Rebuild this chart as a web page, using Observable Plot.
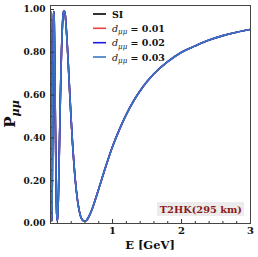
<!DOCTYPE html>
<html><head><meta charset="utf-8">
<script src="https://cdn.jsdelivr.net/npm/d3@7"></script>
<script src="https://cdn.jsdelivr.net/npm/@observablehq/plot@0.6"></script>
<style>body{margin:0;background:#fff}</style>
</head><body><div id="chart"></div>
<script>
const energies = [0.100,0.105,0.110,0.115,0.120,0.125,0.130,0.135,0.140,0.145,0.150,0.155,0.160,0.170,0.180,0.190,0.200,0.210,0.220,0.230,0.240,0.250,0.260,0.270,0.280,0.290,0.300,0.310,0.320,0.340,0.360,0.380,0.400,0.420,0.440,0.460,0.480,0.500,0.520,0.540,0.560,0.580,0.600,0.620,0.650,0.700,0.750,0.800,0.900,1.000,1.100,1.200,1.300,1.400,1.500,1.600,1.800,2.000,2.200,2.400,2.600,2.800,3.000];
const probSI = [0.99,0.746,0.358,0.075,0.012,0.143,0.387,0.649,0.858,0.975,0.99,0.936,0.815,0.498,0.215,0.046,0.012,0.074,0.207,0.371,0.537,0.688,0.811,0.902,0.963,0.99,0.993,0.984,0.951,0.854,0.731,0.603,0.482,0.372,0.279,0.201,0.139,0.090,0.054,0.030,0.017,0.012,0.011,0.014,0.028,0.064,0.112,0.162,0.265,0.360,0.440,0.510,0.570,0.620,0.663,0.700,0.756,0.800,0.830,0.857,0.878,0.894,0.907];
const probD001 = [0.99,0.740,0.350,0.070,0.012,0.150,0.395,0.655,0.862,0.976,0.99,0.934,0.812,0.496,0.214,0.046,0.012,0.074,0.207,0.371,0.537,0.688,0.811,0.902,0.963,0.99,0.993,0.984,0.951,0.854,0.731,0.603,0.482,0.372,0.279,0.201,0.139,0.090,0.054,0.030,0.017,0.012,0.011,0.014,0.028,0.064,0.112,0.162,0.265,0.360,0.440,0.510,0.570,0.620,0.663,0.700,0.756,0.800,0.830,0.857,0.878,0.894,0.907];
const probD002 = [0.99,0.730,0.340,0.066,0.012,0.158,0.405,0.662,0.866,0.977,0.99,0.931,0.808,0.493,0.212,0.045,0.012,0.075,0.208,0.372,0.538,0.688,0.811,0.902,0.963,0.99,0.993,0.984,0.951,0.854,0.731,0.603,0.482,0.372,0.279,0.201,0.139,0.090,0.054,0.030,0.017,0.012,0.011,0.014,0.028,0.064,0.112,0.162,0.265,0.360,0.440,0.510,0.570,0.620,0.663,0.700,0.756,0.800,0.830,0.857,0.878,0.894,0.907];
const probD003 = [0.99,0.720,0.330,0.062,0.012,0.166,0.415,0.670,0.870,0.978,0.99,0.928,0.804,0.490,0.210,0.045,0.012,0.076,0.209,0.373,0.539,0.689,0.811,0.902,0.963,0.99,0.993,0.984,0.951,0.854,0.731,0.603,0.482,0.372,0.279,0.201,0.139,0.090,0.054,0.030,0.017,0.012,0.011,0.014,0.028,0.064,0.112,0.162,0.265,0.360,0.440,0.510,0.570,0.620,0.663,0.700,0.756,0.800,0.830,0.857,0.878,0.894,0.907];
const seriesNames = ["SI","d0.01","d0.02","d0.03"];
const seriesColors = ["#000000","#e8423c","#1a1ae6","#3a76c4"];
const legendValues = ["0.01","0.02","0.03"];
const xMajor = [1,2,3];
const xMinor = [0.2,0.4,0.6,0.8,1.2,1.4,1.6,1.8,2.2,2.4,2.6,2.8];
const yMajor = [0,0.2,0.4,0.6,0.8,1.0];
const yMinor = [0.05,0.1,0.15,0.25,0.3,0.35,0.45,0.5,0.55,0.65,0.7,0.75,0.85,0.9,0.95];

const allProbs = [probSI, probD001, probD002, probD003];
const data = [];
allProbs.forEach((arr, k) => energies.forEach((e, i) => data.push({E: e, P: arr[i], s: seriesNames[k]})));

const FONT = "DejaVu Serif";
const X0 = 0.1, X1 = 3, Y0 = 0, Y1 = 1.0187;
const tkx = (X1 - X0) / 200, tky = (Y1 - Y0) / 218;

const svg = Plot.plot({
  width: 258, height: 257,
  marginLeft: 50, marginRight: 8, marginTop: 5, marginBottom: 34,
  style: {fontFamily: FONT, background: "#fff"},
  x: {domain: [X0, X1]},
  y: {domain: [Y0, Y1]},
  color: {domain: seriesNames, range: seriesColors},
  marks: [
    Plot.line(data, {x: "E", y: "P", z: "s", stroke: "s", strokeWidth: 1.6, curve: "catmull-rom", clip: true}),
    Plot.ruleX(xMajor, {y1: Y0, y2: Y0 + 4 * tky, stroke: "#333", strokeWidth: 1}),
    Plot.ruleX(xMinor, {y1: Y0, y2: Y0 + 2 * tky, stroke: "#333", strokeWidth: 1}),
    Plot.ruleY(yMajor, {x1: X0, x2: X0 + 4 * tkx, stroke: "#333", strokeWidth: 1}),
    Plot.ruleY(yMinor, {x1: X0, x2: X0 + 2 * tkx, stroke: "#333", strokeWidth: 1}),
    Plot.axisX({ticks: xMajor, tickSize: 0, tickPadding: 3, label: null, tickFormat: d3.format("d"), fontSize: 10, fontWeight: "bold", fill: "#111"}),
    Plot.axisY({ticks: yMajor, tickSize: 0, tickPadding: 5, label: null, tickFormat: d3.format(".2f"), fontSize: 9, fontWeight: "bold", fill: "#111"}),
    Plot.frame({stroke: "#444", strokeWidth: 1})
  ]
});

const g = d3.select(svg).append("g").attr("font-family", FONT).attr("font-weight", "bold").attr("fill", "#111").attr("text-anchor", "start");
// x label
g.append("text").attr("x", 150).attr("y", 249).attr("text-anchor", "middle").attr("font-size", 11.5).text("E [GeV]");
// y label
const yl = g.append("text").attr("transform", "translate(15,114) rotate(-90)").attr("text-anchor", "middle").attr("font-size", 15);
yl.append("tspan").text("P");
yl.append("tspan").attr("dy", 4).attr("font-size", 11).attr("font-style", "italic").text("μμ");
// legend
const ly = [14, 28.3, 42.7, 57];
seriesNames.forEach((n, i) => {
  g.append("line").attr("x1", 93).attr("x2", 106).attr("y1", ly[i]).attr("y2", ly[i]).attr("stroke", seriesColors[i]).attr("stroke-width", 1.6);
  const t = g.append("text").attr("x", 112).attr("y", ly[i] + 3.5).attr("font-size", 9.5).attr("text-anchor", "start");
  if (i === 0) t.text("SI");
  else {
    t.append("tspan").attr("font-style", "italic").attr("font-weight", "normal").text("d");
    t.append("tspan").attr("font-size", 7).attr("dy", 2.5).attr("font-style", "italic").attr("font-weight", "normal").text("μμ");
    t.append("tspan").attr("dy", -2.5).text(" = " + legendValues[i - 1]);
  }
});
// experiment box
g.append("rect").attr("x", 157).attr("y", 202).attr("width", 87).attr("height", 14).attr("fill", "#ececec");
g.append("text").attr("x", 242).attr("y", 212.5).attr("text-anchor", "end").attr("font-size", 9.8).attr("fill", "#8b1a1a").text("T2HK(295 km)");

document.getElementById("chart").appendChild(svg);
</script>
</body></html>
